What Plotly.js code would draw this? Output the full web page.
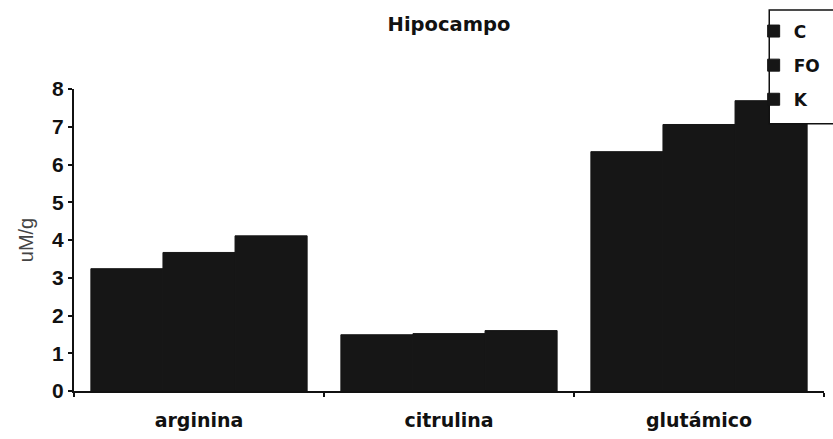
<!DOCTYPE html>
<html>
<head>
<meta charset="utf-8">
<script src="https://cdn.plot.ly/plotly-3.0.1.min.js"></script>
<style>
  html, body { margin: 0; padding: 0; background: #ffffff; }
  #chart { width: 833px; height: 439px; }
</style>
</head>
<body>
<div id="chart"></div>
<script>
// Amino acid levels in the hippocampus (uM/g) for three groups
const categories = ['arginina', 'citrulina', 'glutámico'];
const groupNames = ['C', 'FO', 'K'];
const valuesC  = [3.24, 1.49, 6.34];
const valuesFO = [3.67, 1.52, 7.06];
const valuesK  = [4.11, 1.60, 7.69];
const yTicks = [0, 1, 2, 3, 4, 5, 6, 7, 8];

const barColor = '#161616';
const seriesValues = [valuesC, valuesFO, valuesK];

const traces = groupNames.map((name, i) => ({
  type: 'bar',
  name: name,
  x: categories,
  y: seriesValues[i],
  legendgroup: 'g' + i,
  marker: { color: barColor, line: { width: 1, color: barColor } },
  hoverinfo: 'x+y+name'
}));

const heavy = '"DejaVu Sans", "Liberation Sans", Arial, sans-serif';

const layout = {
  width: 833,
  height: 439,
  margin: { l: 74, r: 8, t: 89, b: 48 },
  paper_bgcolor: '#ffffff',
  plot_bgcolor: '#ffffff',
  barmode: 'group',
  bargap: 0.135,
  bargroupgap: 0,
  title: {
    text: '<b>Hipocampo</b>',
    font: { family: heavy, size: 19.5, color: '#111111' },
    x: 0.5, xref: 'paper', xanchor: 'center',
    y: 0.945, yref: 'container', yanchor: 'middle'
  },
  xaxis: {
    type: 'category',
    tickson: 'boundaries',
    ticks: 'outside', ticklen: 4, tickwidth: 2, tickcolor: '#111111',
    showline: true, linecolor: '#111111', linewidth: 2,
    showgrid: false, zeroline: false,
    ticklabelstandoff: 11,
    tickfont: { family: heavy, size: 19, color: '#111111', weight: 'bold' },
    fixedrange: true
  },
  yaxis: {
    range: [0, 8],
    tickvals: yTicks,
    ticktext: yTicks.map(String),
    ticks: 'outside', ticklen: 4, tickwidth: 2, tickcolor: '#111111',
    showline: true, linecolor: '#111111', linewidth: 2,
    showgrid: false, zeroline: false,
    tickfont: { family: '"Liberation Sans", Arial, sans-serif', size: 21, color: '#111111', weight: 'bold' },
    title: {
      text: 'uM/g',
      font: { family: '"Liberation Sans", Arial, sans-serif', size: 20, color: '#444444' },
      standoff: 13
    },
    fixedrange: true
  },
  showlegend: true,
  legend: {
    x: 0.905, xanchor: 'left',
    y: 1.25, yanchor: 'top',
    bgcolor: 'rgba(0,0,0,0)',
    borderwidth: 0,
    tracegroupgap: 9,
    itemwidth: 30,
    font: { family: heavy, size: 17, color: '#111111', weight: 'bold' }
  },
  shapes: [{
    type: 'rect', layer: 'above',
    xref: 'paper', yref: 'paper',
    x0: 0.927, x1: 1.02,
    y0: 0.885, y1: 1.262,
    fillcolor: '#ffffff',
    line: { color: '#111111', width: 1.5 }
  }]
};

Plotly.newPlot('chart', traces, layout, { displayModeBar: false, staticPlot: true });
</script>
</body>
</html>
